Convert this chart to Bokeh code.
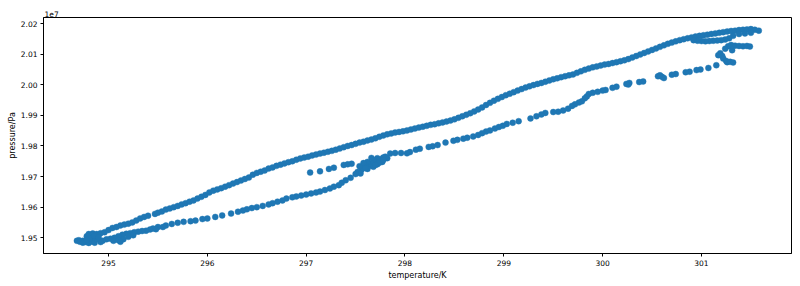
from bokeh.plotting import figure
from bokeh.models import Range1d, CustomJSTickFormatter, FixedTicker, ColumnDataSource
from bokeh.embed import file_html
from bokeh.resources import INLINE

# (temperature/K, pressure/1e7 Pa), grouped by branch
upper_branch = [
    (294.70,1.9492),(294.74,1.9490),(294.78,1.9505),(294.80,1.9512),(294.84,1.9514),(294.88,1.9512),
    (294.92,1.9515),(294.96,1.9518),(295.00,1.9525),(295.04,1.9532),(295.08,1.9535),(295.12,1.9540),
    (295.16,1.9543),(295.20,1.9546),(295.24,1.9550),(295.28,1.9556),(295.32,1.9563),(295.36,1.9568),
    (295.40,1.9572),(295.47,1.9578),(295.50,1.9582),(295.54,1.9586),(295.58,1.9592),(295.62,1.9596),
    (295.66,1.9600),(295.70,1.9604),(295.74,1.9609),(295.78,1.9613),(295.82,1.9618),(295.86,1.9622),
    (295.90,1.9628),(295.94,1.9634),(295.98,1.9640),(296.02,1.9648),(296.06,1.9654),(296.10,1.9658),
    (296.14,1.9662),(296.18,1.9667),(296.22,1.9672),(296.26,1.9677),(296.30,1.9682),(296.34,1.9687),
    (296.38,1.9692),(296.42,1.9697),(296.46,1.9706),(296.50,1.9712),(296.54,1.9716),(296.58,1.9720),
    (296.62,1.9726),(296.66,1.9730),(296.70,1.9735),(296.74,1.9739),(296.78,1.9743),(296.82,1.9747),
    (296.86,1.9750),(296.90,1.9755),(296.94,1.9759),(296.98,1.9762),(297.02,1.9765),(297.06,1.9769),
    (297.10,1.9772),(297.14,1.9775),(297.18,1.9778),(297.22,1.9781),(297.26,1.9784),(297.30,1.9788),
    (297.34,1.9792),(297.38,1.9796),(297.42,1.9800),(297.46,1.9803),(297.50,1.9807),(297.54,1.9811),
    (297.58,1.9814),(297.62,1.9818),(297.66,1.9821),(297.70,1.9825),(297.74,1.9830),(297.78,1.9834),
    (297.82,1.9838),(297.86,1.9841),(297.90,1.9844),(297.94,1.9846),(297.98,1.9848),(298.02,1.9851),
    (298.06,1.9854),(298.10,1.9857),(298.14,1.9860),(298.18,1.9863),(298.22,1.9866),(298.26,1.9869),
    (298.30,1.9871),(298.34,1.9874),(298.38,1.9877),(298.42,1.9880),(298.46,1.9883),(298.50,1.9887),
    (298.54,1.9892),(298.58,1.9897),(298.62,1.9902),(298.66,1.9907),(298.70,1.9913),(298.74,1.9919),
    (298.78,1.9926),(298.82,1.9934),(298.86,1.9941),(298.90,1.9948),(298.94,1.9954),(298.98,1.9960),
    (299.02,1.9966),(299.06,1.9971),(299.10,1.9976),(299.14,1.9981),(299.18,1.9986),(299.22,1.9991),
    (299.26,1.9995),(299.30,1.9999),(299.34,2.0003),(299.38,2.0006),(299.42,2.0010),(299.46,2.0014),
    (299.50,2.0018),(299.54,2.0021),(299.58,2.0025),(299.62,2.0028),(299.66,2.0031),(299.70,2.0034),
    (299.74,2.0039),(299.78,2.0044),(299.82,2.0049),(299.86,2.0053),(299.90,2.0057),(299.94,2.0060),
    (299.98,2.0063),(300.02,2.0066),(300.06,2.0068),(300.10,2.0071),(300.14,2.0074),(300.18,2.0077),
    (300.22,2.0080),(300.26,2.0084),(300.30,2.0089),(300.34,2.0094),(300.38,2.0099),(300.42,2.0104),
    (300.46,2.0109),(300.50,2.0114),(300.54,2.0119),(300.58,2.0124),(300.62,2.0129),(300.66,2.0134),
    (300.70,2.0138),(300.74,2.0142),(300.78,2.0146),(300.82,2.0149),(300.86,2.0152),(300.90,2.0155),
    (300.94,2.0158),(300.98,2.0160),(301.02,2.0162),(301.06,2.0164),(301.10,2.0166),(301.14,2.0168),
    (301.18,2.0170),(301.22,2.0172),(301.26,2.0174),(301.30,2.0176),(301.34,2.0177),(301.38,2.0179),
    (301.42,2.0180),(301.46,2.0181),(301.50,2.0182),(301.54,2.0180),(301.58,2.0177),
]

return_loop = [
    (301.50,2.0170),(301.44,2.0168),(301.38,2.0166),(301.32,2.0160),(301.28,2.0152),(301.24,2.0148),
    (301.20,2.0146),(301.16,2.0145),(301.12,2.0144),(301.08,2.0143),(301.04,2.0142),(301.00,2.0143),
    (300.96,2.0144),(300.92,2.0146),(301.30,2.0130),(301.34,2.0128),(301.38,2.0127),(301.42,2.0126),
    (301.46,2.0127),(301.49,2.0125),(301.27,2.0126),(301.31,2.0113),(301.24,2.0118),
]

drop = [
    (301.19,2.0103),(301.21,2.0094),(301.22,2.0086),(301.25,2.0078),(301.26,2.0074),(301.29,2.0075),
    (301.32,2.0073),(301.17,2.0097),(301.15,2.0064),(301.07,2.0055),(300.99,2.0050),
]

lower_branch_hot = [
    (300.95,2.0048),(300.88,2.0043),(300.84,2.0041),(300.74,2.0035),(300.70,2.0033),(300.62,2.0022),
    (300.60,2.0026),(300.58,2.0031),(300.56,2.0028),(300.41,2.0011),(300.37,2.0009),(300.27,2.0006),
    (300.26,2.0001),(300.24,2.0003),(300.14,1.9994),(300.10,1.9990),(300.03,1.9983),(300.00,1.9981),
    (299.95,1.9977),(299.90,1.9974),(299.86,1.9970),(299.84,1.9962),(299.82,1.9956),(299.79,1.9946),
    (299.76,1.9942),(299.72,1.9936),(299.69,1.9931),(299.65,1.9922),(299.60,1.9916),(299.55,1.9912),
    (299.50,1.9911),(299.42,1.9908),(299.38,1.9903),(299.33,1.9897),(299.27,1.9890),(299.15,1.9881),
    (299.09,1.9876),(299.03,1.9872),(298.99,1.9866),(298.95,1.9862),(298.91,1.9857),(298.86,1.9851),
    (298.82,1.9847),(298.78,1.9842),(298.74,1.9836),(298.69,1.9831),(298.63,1.9827),(298.59,1.9824),
    (298.53,1.9820),(298.49,1.9817),(298.41,1.9811),(298.33,1.9803),(298.28,1.9799),(298.24,1.9797),
    (298.15,1.9791),(298.11,1.9788),(298.05,1.9780),(298.02,1.9776),(297.96,1.9777),(297.90,1.9777),
    (297.85,1.9775),
]

cluster = [
    (297.82,1.9760),(297.80,1.9765),(297.78,1.9762),(297.76,1.9757),(297.74,1.9752),(297.77,1.9748),
    (297.72,1.9760),(297.70,1.9747),(297.68,1.9754),(297.66,1.9742),(297.72,1.9740),(297.64,1.9735),
    (297.62,1.9748),(297.60,1.9738),(297.58,1.9730),(297.62,1.9725),(297.56,1.9722),(297.54,1.9734),
    (297.52,1.9715),(297.55,1.9710),(297.50,1.9708),(297.68,1.9732),(297.74,1.9745),(297.66,1.9761),
    (297.58,1.9744),(297.78,1.9754),(297.70,1.9738),(297.60,1.9728),
]

middle_row = [
    (297.46,1.9742),(297.42,1.9740),(297.38,1.9738),(297.28,1.9729),(297.23,1.9725),(297.14,1.9717),
    (297.04,1.9713),
]

lower_branch_cold = [
    (297.45,1.9696),(297.40,1.9688),(297.36,1.9680),(297.33,1.9672),(297.28,1.9667),(297.24,1.9661),
    (297.19,1.9656),(297.14,1.9651),(297.10,1.9648),(297.05,1.9645),(297.00,1.9641),(296.95,1.9638),
    (296.90,1.9635),(296.86,1.9632),(296.80,1.9628),(296.76,1.9622),(296.71,1.9618),(296.66,1.9613),
    (296.62,1.9609),(296.56,1.9604),(296.50,1.9600),(296.45,1.9597),(296.40,1.9593),(296.36,1.9589),
    (296.31,1.9585),(296.24,1.9579),(296.15,1.9573),(296.08,1.9568),(296.00,1.9563),(295.95,1.9561),
    (295.88,1.9556),(295.83,1.9554),(295.76,1.9552),(295.70,1.9549),(295.64,1.9545),(295.58,1.9540),
    (295.55,1.9535),(295.50,1.9535),(295.48,1.9528),(295.45,1.9530),(295.42,1.9527),(295.38,1.9523),
    (295.34,1.9522),(295.30,1.9520),(295.26,1.9518),(295.22,1.9515),(295.18,1.9513),(295.14,1.9510),
    (295.10,1.9505),(295.06,1.9500),(295.02,1.9497),(294.98,1.9495),(294.94,1.9490),(294.92,1.9486),
    (295.05,1.9490),(295.10,1.9492),(295.15,1.9495),(295.20,1.9503),(295.25,1.9508),(295.12,1.9487),
]

left_cluster = [
    (294.68,1.9490),(294.71,1.9487),(294.74,1.9484),(294.77,1.9486),(294.80,1.9483),(294.83,1.9488),
    (294.86,1.9484),(294.88,1.9495),(294.84,1.9500),(294.81,1.9497),(294.86,1.9506),(294.90,1.9502),
    (294.78,1.9493),
]

x_ticks = [295, 296, 297, 298, 299, 300, 301]
y_ticks_e7 = [1.95, 1.96, 1.97, 1.98, 1.99, 2.00, 2.01, 2.02]

groups = [upper_branch, return_loop, drop, lower_branch_hot, cluster, middle_row,
          lower_branch_cold, left_cluster]
temperature = [t for g in groups for (t, _) in g]
pressure = [p * 1e7 for g in groups for (_, p) in g]

source = ColumnDataSource(data=dict(temperature=temperature, pressure=pressure))

FONT = "DejaVu Sans"

p = figure(width=800, height=286, output_backend="svg", toolbar_location=None,
           x_range=Range1d(294.342, 301.911), y_range=Range1d(1.94485e7, 2.0220e7),
           min_border_left=43, min_border_right=9, min_border_top=17, min_border_bottom=33)

p.scatter("temperature", "pressure", source=source, size=6.0, fill_color="#1f77b4",
          line_color="#1f77b4", line_width=0.4)

p.grid.visible = False
p.outline_line_color = "#000000"
p.outline_line_width = 1
p.background_fill_color = "white"
p.border_fill_color = "white"

p.xaxis.ticker = FixedTicker(ticks=x_ticks)
p.yaxis.ticker = FixedTicker(ticks=[v * 1e7 for v in y_ticks_e7])
p.yaxis.formatter = CustomJSTickFormatter(code="return (tick/1e7).toFixed(2);")

for ax in (p.xaxis[0], p.yaxis[0]):
    ax.major_tick_out = 3
    ax.major_tick_in = 0
    ax.minor_tick_line_color = None
    ax.axis_line_color = "#000000"
    ax.major_tick_line_color = "#000000"
    ax.major_label_text_font = FONT
    ax.major_label_text_font_size = "7.5px"
    ax.major_label_text_color = "#000000"
    ax.axis_label_text_font = FONT
    ax.axis_label_text_font_size = "8px"
    ax.axis_label_text_font_style = "normal"
    ax.axis_label_text_color = "#000000"
    ax.major_label_standoff = 3

p.xaxis.axis_label = "temperature/K"
p.yaxis.axis_label = "pressure/Pa"
p.xaxis.axis_label_standoff = 2
p.yaxis.axis_label_standoff = 1

# offset text of the y axis, shown above the top-left corner of the frame
p.title.text = "1e7"
p.title.align = "left"
p.title.offset = 1
p.title.standoff = 1
p.title.text_font = FONT
p.title.text_font_size = "7.5px"
p.title.text_font_style = "normal"
p.title.text_color = "#000000"
p.title.vertical_align = "bottom"

open("out.html", "w").write(file_html(p, INLINE))
